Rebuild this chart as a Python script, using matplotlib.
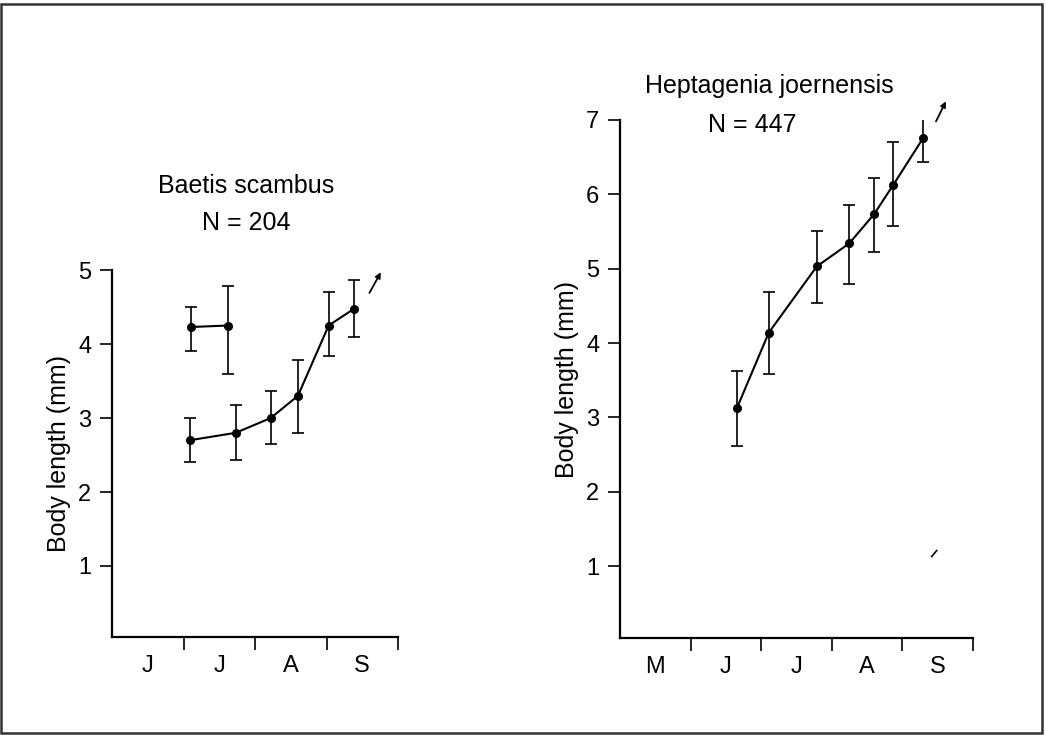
import matplotlib
matplotlib.use("Agg")
import matplotlib.pyplot as plt
from matplotlib.patches import Rectangle

plt.rcParams['font.family'] = ['Liberation Sans', 'DejaVu Sans']

# Baetis scambus, x in months from start of June
baetis_x = [1.09, 1.73, 2.22, 2.60, 3.03, 3.39]
baetis_y = [2.70, 2.80, 3.00, 3.30, 4.25, 4.48]
baetis_lo = [2.40, 2.43, 2.65, 2.80, 3.84, 4.09]
baetis_hi = [3.00, 3.18, 3.36, 3.78, 4.70, 4.86]

# older cohort of Baetis
baetis2_x = [1.10, 1.62]
baetis2_y = [4.23, 4.25]
baetis2_lo = [3.90, 3.60]
baetis2_hi = [4.50, 4.78]

# Heptagenia joernensis, x in months from start of May
hept_x = [1.66, 2.11, 2.79, 3.25, 3.60, 3.87, 4.30]
hept_y = [3.13, 4.14, 5.03, 5.34, 5.73, 6.12, 6.76]
hept_lo = [2.62, 3.58, 4.54, 4.80, 5.22, 5.58, 6.43]
hept_hi = [3.62, 4.69, 5.50, 5.86, 6.22, 6.70, 7.03]

left_months = ['J', 'J', 'A', 'S']
right_months = ['M', 'J', 'J', 'A', 'S']


def draw_series(ax, x, y, lo, hi):
    err = [[v - l for v, l in zip(y, lo)], [h - v for v, h in zip(y, hi)]]
    ax.errorbar(x, y, yerr=err, fmt='o-', color='black', ms=5.5, lw=1.5,
                elinewidth=1.2, capsize=4.5, capthick=1.2)


def style_axis(ax, months, ymax, ybottom):
    n = len(months)
    ax.set_xlim(0, n)
    ax.set_ylim(ybottom, ymax)
    for s in ['top', 'right']:
        ax.spines[s].set_visible(False)
    for s in ['left', 'bottom']:
        ax.spines[s].set_linewidth(1.6)
    ax.set_yticks(range(1, ymax + 1))
    ax.set_xticks(range(1, n + 1))
    ax.set_xticklabels([])
    ax.set_xticks([i + 0.5 for i in range(n)], minor=True)
    ax.set_xticklabels(months, minor=True)
    ax.tick_params(axis='x', which='major', length=9, width=1.2, direction='out')
    ax.tick_params(axis='x', which='minor', length=0, pad=13, labelsize=17)
    ax.tick_params(axis='y', length=9, width=1.2, pad=6, labelsize=17)
    ax.set_ylabel('Body length (mm)', fontsize=18)


fig = plt.figure(figsize=(10.46, 7.35), dpi=100)

ax1 = fig.add_axes([0.1071, 0.1333, 0.2734, 0.4993])
draw_series(ax1, baetis_x, baetis_y, baetis_lo, baetis_hi)
draw_series(ax1, baetis2_x, baetis2_y, baetis2_lo, baetis2_hi)
style_axis(ax1, left_months, 5, 0.04)
ax1.yaxis.set_label_coords(-0.143, 0.5)
ax1.annotate('', xy=(3.76, 4.97), xytext=(3.60, 4.69), annotation_clip=False,
             arrowprops=dict(arrowstyle='-|>', color='black', lw=1.3,
                             mutation_scale=8, shrinkA=0, shrinkB=0))

ax2 = fig.add_axes([0.5927, 0.1316, 0.3372, 0.7052])
draw_series(ax2, hept_x, hept_y, hept_lo, hept_hi)
style_axis(ax2, right_months, 7, 0.03)
ax2.yaxis.set_label_coords(-0.117, 0.5)
ax2.annotate('', xy=(4.62, 7.25), xytext=(4.48, 6.98), annotation_clip=False,
             arrowprops=dict(arrowstyle='-|>', color='black', lw=1.3,
                             mutation_scale=8, shrinkA=0, shrinkB=0))
ax2.plot([4.42, 4.49], [1.13, 1.21], color='black', lw=1.2)

fig.text(0.2352, 0.747, 'Baetis scambus', ha='center', va='center', fontsize=18)
fig.text(0.2352, 0.6966, 'N = 204', ha='center', va='center', fontsize=18)
fig.text(0.7352, 0.883, 'Heptagenia joernensis', ha='center', va='center', fontsize=18)
fig.text(0.719, 0.830, 'N = 447', ha='center', va='center', fontsize=18)

# frame round the whole figure
fig.patches.append(Rectangle((1 / 1046, 2 / 735), 1041 / 1046, 729 / 735,
                             transform=fig.transFigure, fill=False,
                             edgecolor='#333333', lw=1.8))

fig.savefig('out.png', dpi=100)
